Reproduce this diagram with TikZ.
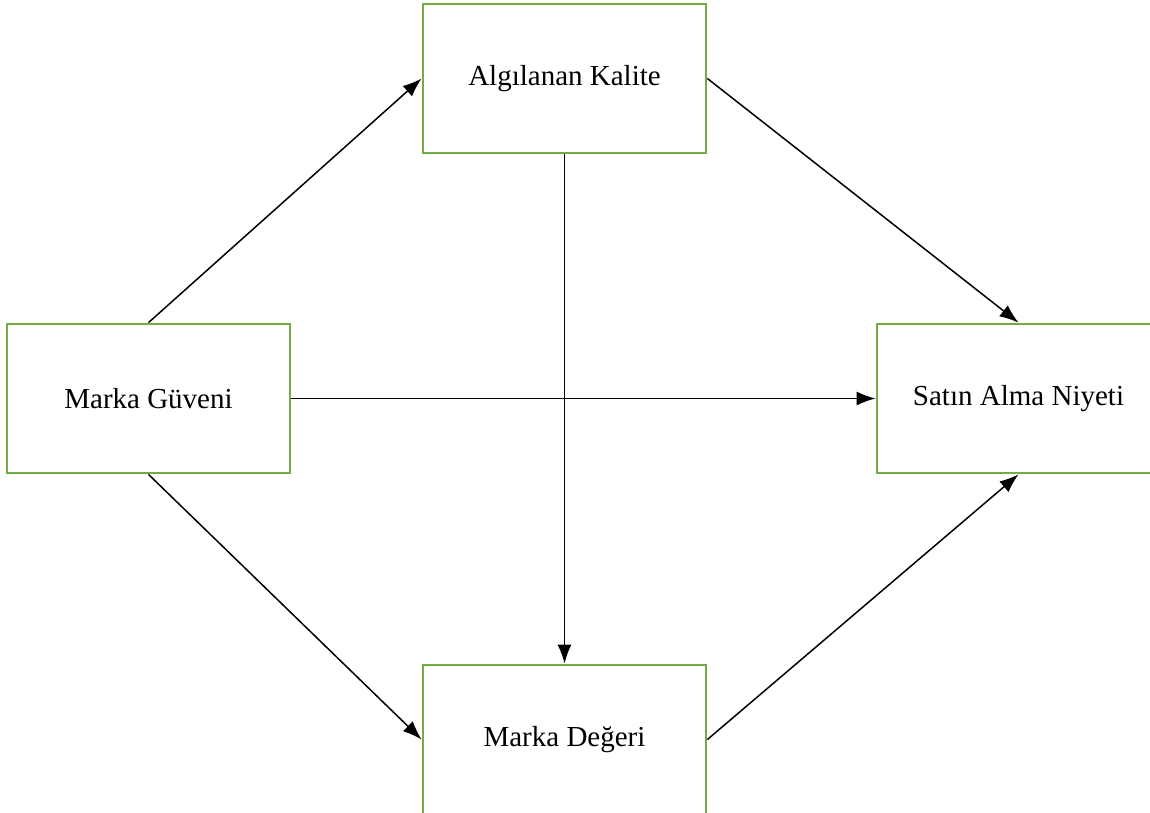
\documentclass[tikz,border=0pt]{standalone}
\usepackage{fontspec}
\setmainfont{Liberation Serif}
\usetikzlibrary{arrows.meta}
\definecolor{boxgreen}{HTML}{70AD47}
\tikzset{
  box/.style={draw=boxgreen, line width=2.8pt, fill=white, minimum width=283pt, minimum height=149pt, inner sep=0pt, font=\fontsize{29}{34}\selectfont},
  link/.style={line width=1.5pt, -{Latex[length=19pt,width=14pt]}}
}
\begin{document}
\begin{tikzpicture}[x=1pt,y=-1pt]
\useasboundingbox (0,0) rectangle (1150,813);
\clip (0,0) rectangle (1150,813);
\node[box] (ak) at (564.5,78.5) {Algılanan Kalite};
\node[box] (mg) at (148.5,398.5) {Marka Güveni};
\node[box] (md) at (564.5,739.5) {Marka Değeri};
\node[box] (san) at (1018.5,398.5) {Satın Alma Niyeti};
\draw[link] (mg.north) -- (ak.west);
\draw[link] (mg.south) -- (md.west);
\draw[link] (mg.east) -- (san.west);
\draw[link] (ak.south) -- (md.north);
\draw[link] (ak.east) -- (san.north);
\draw[link] (md.east) -- (san.south);
\end{tikzpicture}
\end{document}
